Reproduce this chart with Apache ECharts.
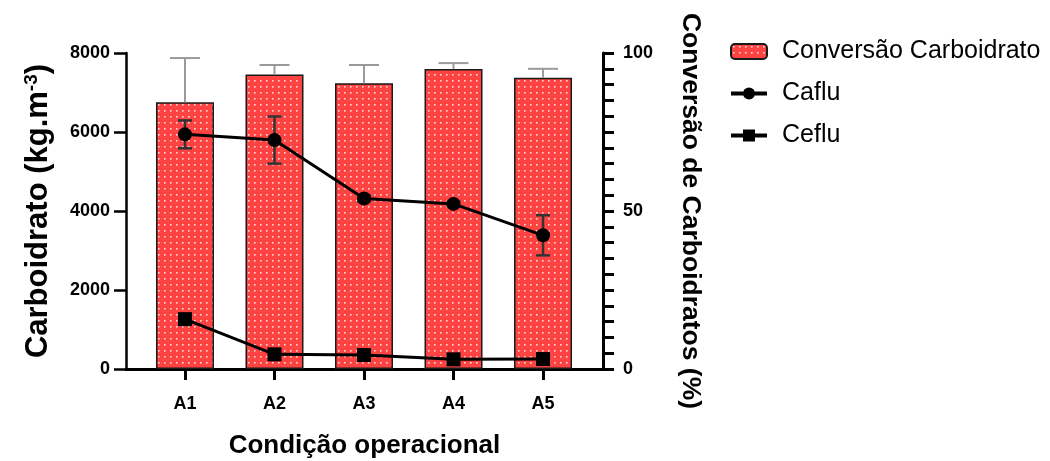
<!DOCTYPE html>
<html>
<head>
<meta charset="utf-8">
<script src="https://cdn.jsdelivr.net/npm/echarts@6/dist/echarts.min.js"></script>
<style>html,body{margin:0;padding:0;background:#fff}#c{width:1050px;height:461px}</style>
</head>
<body>
<div id="c"></div>
<script>
const categories = ['A1', 'A2', 'A3', 'A4', 'A5'];
const conversao = [84.4, 93.2, 90.4, 94.9, 92.2];
const conversaoErr = [14.0, 3.0, 5.8, 1.9, 2.8];
const caflu = [5940, 5796, 4315, 4180, 3385];
const cafluErr = [353, 597, 80, 60, 508];
const ceflu = [1262, 371, 353, 245, 252];
const leftTicks = [0, 2000, 4000, 6000, 8000];
const rightTicks = [0, 50, 100];

const FONT = "'Liberation Sans', Arial, sans-serif";

// dotted red pattern
const pc = document.createElement('canvas');
pc.width = 6; pc.height = 6;
const pctx = pc.getContext('2d');
pctx.fillStyle = '#fe4343';
pctx.fillRect(0, 0, 6, 6);
pctx.fillStyle = 'rgba(255,235,235,0.9)';
pctx.fillRect(2, 2, 1.6, 1.6);

const idx = categories.map((_, i) => i);

function errItem(color, lw, capHalf, upOnly) {
  return function (params, api) {
    const x = api.value(0), lo = api.value(1), hi = api.value(2);
    const pHi = api.coord([x, hi]);
    const pLo = api.coord([x, lo]);
    const children = [
      { type: 'line', shape: { x1: pHi[0], y1: pHi[1], x2: pLo[0], y2: pLo[1] }, style: { stroke: color, lineWidth: lw } },
      { type: 'line', shape: { x1: pHi[0] - capHalf, y1: pHi[1], x2: pHi[0] + capHalf, y2: pHi[1] }, style: { stroke: color, lineWidth: lw } }
    ];
    if (!upOnly) {
      children.push({ type: 'line', shape: { x1: pLo[0] - capHalf, y1: pLo[1], x2: pLo[0] + capHalf, y2: pLo[1] }, style: { stroke: color, lineWidth: lw } });
    }
    return { type: 'group', children };
  };
}

const chart = echarts.init(document.getElementById('c'), null, { renderer: 'canvas' });
chart.setOption({
  animation: false,
  backgroundColor: '#fff',
  textStyle: { fontFamily: FONT },
  grid: { left: 126, right: 447, top: 53, bottom: 92, outerBoundsMode: 'none', containLabel: false },
  legend: {
    orient: 'vertical', left: 724, top: 34, itemWidth: 36, itemHeight: 15, itemGap: 17,
    textStyle: { fontFamily: FONT, fontSize: 25, color: '#000', padding: [0, 0, 0, 10] },
    lineStyle: { width: 4 },
    data: [
      { name: 'Conversão Carboidrato' },
      { name: 'Caflu' },
      { name: 'Ceflu' }
    ]
  },
  xAxis: {
    type: 'value', min: -0.659, max: 4.67,
    name: 'Condição operacional', nameLocation: 'middle', nameGap: 64,
    nameTextStyle: { fontFamily: FONT, fontSize: 26, fontWeight: 'bold', color: '#000' },
    axisLine: { show: true, onZero: false, lineStyle: { color: '#000', width: 3 } },
    axisTick: { show: true, customValues: idx, length: 11, lineStyle: { color: '#000', width: 3 } },
    axisLabel: { customValues: idx, formatter: v => categories[Math.round(v)], margin: 26, fontFamily: FONT, fontSize: 18, fontWeight: 'bold', color: '#000' },
    splitLine: { show: false }
  },
  yAxis: [
    {
      type: 'value', min: 0, max: 8000, interval: 2000, position: 'left',
      name: '{t|Carboidrato (kg.m}{s|-3}{t|)}', nameLocation: 'middle', nameGap: 72,
      nameTextStyle: {
        rich: {
          t: { fontFamily: FONT, fontSize: 31, fontWeight: 'bold', color: '#000' },
          s: { fontFamily: FONT, fontSize: 19, fontWeight: 'bold', color: '#000', verticalAlign: 'top', padding: [0, 0, 13, 0] }
        }
      },
      axisLine: { show: true, onZero: false, lineStyle: { color: '#000', width: 2.5 } },
      axisTick: { show: true, length: 12, lineStyle: { color: '#000', width: 2.5 } },
      axisLabel: { margin: 16, fontFamily: FONT, fontSize: 18, fontWeight: 'bold', color: '#000', customValues: leftTicks, formatter: v => String(v) },
      splitLine: { show: false }
    },
    {
      type: 'value', min: 0, max: 100, interval: 50, position: 'right',
      name: 'Conversão de Carboidratos (%)', nameLocation: 'middle', nameGap: 74, nameRotate: -90,
      nameTextStyle: { fontFamily: FONT, fontSize: 26.5, fontWeight: 'bold', color: '#000' },
      axisLine: { show: true, onZero: false, lineStyle: { color: '#000', width: 3 } },
      axisTick: { show: true, length: 11, lineStyle: { color: '#000', width: 3 } },
      minorTick: { show: true, splitNumber: 10, length: 11, lineStyle: { color: '#000', width: 3 } },
      axisLabel: { margin: 20, fontFamily: FONT, fontSize: 18, fontWeight: 'bold', color: '#000', customValues: rightTicks, formatter: v => String(v) },
      splitLine: { show: false }, minorSplitLine: { show: false }
    }
  ],
  series: [
    {
      name: 'Conversão Carboidrato', type: 'bar', yAxisIndex: 1, barWidth: 58,
      data: conversao.map((v, i) => [i, v]),
      itemStyle: { color: { image: pc, repeat: 'repeat' }, borderColor: '#1a1a1a', borderWidth: 1.5 },
      z: 1
    },
    {
      name: 'convErr', type: 'custom', yAxisIndex: 1,
      data: conversao.map((v, i) => [i, v, v + conversaoErr[i]]),
      renderItem: errItem('#9a9a9a', 2, 15, true), z: 2, silent: true
    },
    {
      name: 'cafluErr', type: 'custom', yAxisIndex: 0,
      data: caflu.map((v, i) => [i, v - cafluErr[i], v + cafluErr[i]]),
      renderItem: errItem('#333', 2.5, 7, false), z: 3, silent: true
    },
    {
      name: 'Caflu', type: 'line', yAxisIndex: 0,
      data: caflu.map((v, i) => [i, v]),
      symbol: 'circle', symbolSize: 14,
      lineStyle: { color: '#000', width: 3 }, itemStyle: { color: '#000' }, z: 4
    },
    {
      name: 'Ceflu', type: 'line', yAxisIndex: 0,
      data: ceflu.map((v, i) => [i, v]),
      symbol: 'rect', symbolSize: 14,
      lineStyle: { color: '#000', width: 3 }, itemStyle: { color: '#000' }, z: 4
    }
  ]
});
</script>
</body>
</html>
